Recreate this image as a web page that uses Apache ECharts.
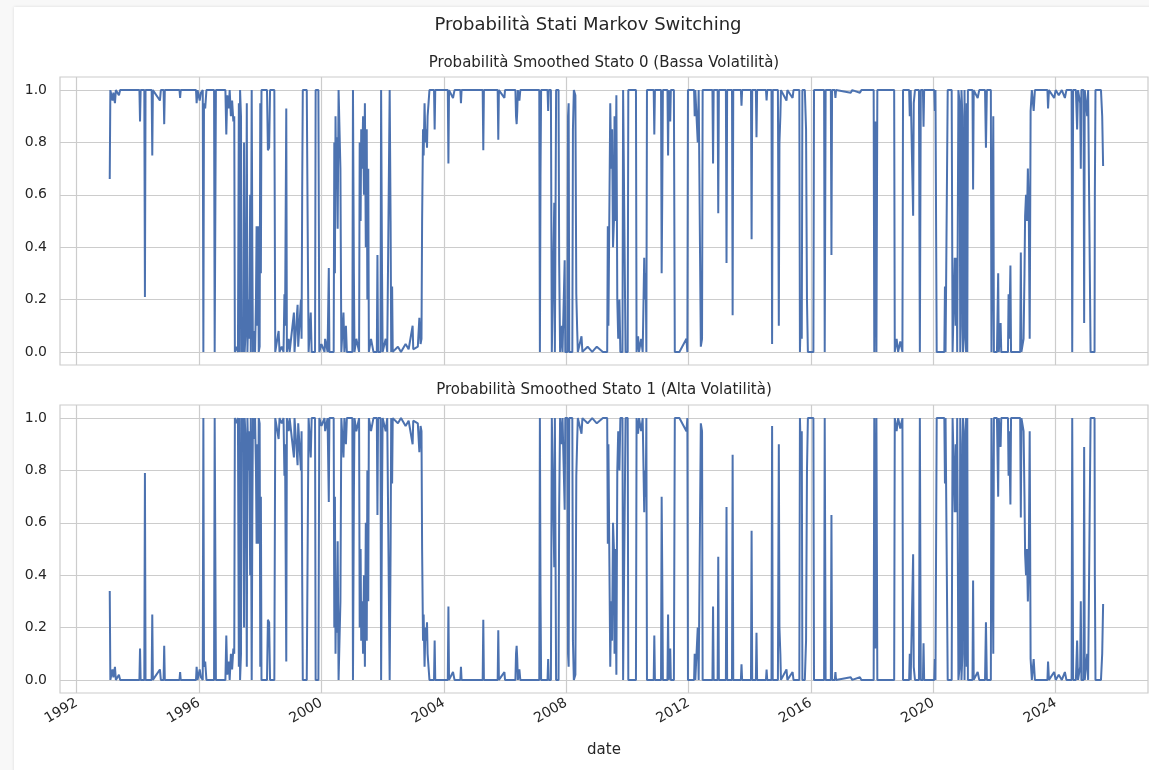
<!DOCTYPE html>
<html>
<head>
<meta charset="utf-8">
<title>Probabilità Stati Markov Switching</title>
<script src="https://cdn.jsdelivr.net/npm/echarts@6/dist/echarts.min.js"></script>
<style>
  html, body { margin: 0; padding: 0; background: #f8f8f8; }
  #card { position: absolute; left: 14px; top: 7px; width: 1140px; height: 770px; background: #ffffff;
          box-shadow: 0 0 3px rgba(0,0,0,0.12); }
  #main { position: absolute; left: 0; top: 0; width: 1149px; height: 770px; }
</style>
</head>
<body>
<div id="card"></div>
<div id="main"></div>
<script>
// tick labels
var anniTick = [1992, 1996, 2000, 2004, 2008, 2012, 2016, 2020, 2024];
var valoriTick = [0.0, 0.2, 0.4, 0.6, 0.8, 1.0];

// probabilita' smoothed stato 0 (bassa volatilita'), [anno decimale, probabilita']
var stato0 = [
  [1993.08, 0.66], [1993.10, 1.0], [1993.17, 0.96], [1993.20, 0.99], [1993.25, 0.95], [1993.28, 1.0], [1993.38, 0.98], [1993.42, 1.0],
  [1994.05, 1.0], [1994.07, 0.88], [1994.09, 1.0],
  [1994.21, 1.0], [1994.23, 0.21], [1994.25, 1.0],
  [1994.45, 1.0], [1994.47, 0.75], [1994.49, 1.0],
  [1994.72, 0.96], [1994.75, 1.0],
  [1994.84, 1.0], [1994.86, 0.87], [1994.88, 1.0],
  [1995.36, 1.0], [1995.38, 0.97], [1995.40, 1.0],
  [1995.90, 1.0], [1995.92, 0.95], [1995.95, 1.0], [1996.02, 0.96], [1996.06, 0.99],
  [1996.12, 1.0], [1996.14, 0.0], [1996.16, 0.95], [1996.20, 0.93], [1996.24, 1.0],
  [1996.49, 1.0], [1996.51, 0.0], [1996.53, 0.5], [1996.55, 1.0],
  [1996.86, 1.0], [1996.89, 0.83], [1996.92, 0.98], [1996.97, 0.93], [1997.00, 1.0], [1997.04, 0.9], [1997.08, 0.96],
  [1997.12, 0.88], [1997.15, 0.9],
  [1997.17, 0.0], [1997.22, 0.02], [1997.27, 0.0], [1997.30, 0.95], [1997.32, 0.0], [1997.34, 1.0], [1997.37, 0.9],
  [1997.39, 0.0], [1997.42, 0.05], [1997.45, 0.0], [1997.47, 0.8], [1997.49, 0.0], [1997.53, 0.1], [1997.56, 0.95],
  [1997.58, 0.0], [1997.62, 0.2], [1997.64, 0.05], [1997.67, 0.6], [1997.69, 0.0], [1997.72, 1.0], [1997.74, 0.4],
  [1997.76, 0.0], [1997.80, 0.08], [1997.83, 0.0], [1997.86, 0.2], [1997.88, 0.48], [1997.90, 0.1], [1997.93, 0.48],
  [1997.95, 0.0], [1997.98, 0.02], [1998.00, 0.95], [1998.02, 0.3], [1998.04, 1.0],
  [1998.22, 1.0], [1998.25, 0.77], [1998.29, 0.78], [1998.32, 1.0], [1998.46, 1.0], [1998.49, 0.0],
  [1998.60, 0.08], [1998.63, 0.0], [1998.70, 0.02], [1998.76, 0.0],
  [1998.79, 0.22], [1998.81, 0.1], [1998.83, 0.1], [1998.85, 0.93], [1998.87, 0.0],
  [1998.93, 0.05], [1998.96, 0.0], [1999.10, 0.15], [1999.12, 0.0], [1999.22, 0.18], [1999.24, 0.02], [1999.33, 0.2], [1999.35, 0.05],
  [1999.37, 0.6], [1999.39, 1.0], [1999.52, 1.0], [1999.54, 0.65], [1999.56, 0.3], [1999.58, 0.0],
  [1999.65, 0.15], [1999.68, 0.0], [1999.79, 0.0],
  [1999.81, 1.0], [1999.90, 1.0], [1999.93, 0.0],
  [2000.00, 0.03], [2000.10, 0.0], [2000.12, 0.05], [2000.20, 0.0],
  [2000.24, 0.32], [2000.26, 0.0], [2000.40, 0.0],
  [2000.42, 0.8], [2000.44, 0.3], [2000.46, 0.9], [2000.48, 0.65], [2000.50, 0.82], [2000.53, 0.47], [2000.56, 1.0],
  [2000.60, 1.0], [2000.62, 0.7], [2000.65, 0.0],
  [2000.72, 0.15], [2000.75, 0.0], [2000.80, 0.1], [2000.83, 0.0], [2001.01, 0.0],
  [2001.03, 1.0], [2001.06, 0.3], [2001.08, 0.0],
  [2001.14, 0.05], [2001.23, 0.0],
  [2001.25, 0.8], [2001.28, 0.5], [2001.30, 0.85], [2001.33, 0.7], [2001.36, 0.9], [2001.39, 0.6], [2001.42, 0.95],
  [2001.45, 0.4], [2001.48, 0.85], [2001.50, 0.2], [2001.53, 0.7], [2001.55, 0.0],
  [2001.62, 0.05], [2001.70, 0.0], [2001.81, 0.0], [2001.83, 0.37], [2001.85, 0.0], [2001.93, 0.0],
  [2001.95, 1.0], [2001.98, 0.3], [2002.00, 0.0],
  [2002.10, 0.05], [2002.15, 0.0], [2002.21, 0.0],
  [2002.23, 1.0], [2002.26, 0.5], [2002.28, 0.0], [2002.31, 0.25], [2002.33, 0.0],
  [2002.50, 0.02], [2002.60, 0.0], [2002.75, 0.03], [2002.85, 0.01], [2002.98, 0.1], [2003.00, 0.01], [2003.15, 0.02],
  [2003.20, 0.13], [2003.24, 0.03], [2003.27, 0.05],
  [2003.29, 0.5], [2003.32, 0.85], [2003.34, 0.75], [2003.37, 0.95], [2003.40, 0.8], [2003.43, 0.85], [2003.45, 0.78],
  [2003.47, 0.9], [2003.50, 0.95], [2003.53, 1.0], [2003.68, 1.0], [2003.70, 0.85], [2003.72, 1.0],
  [2004.13, 1.0], [2004.15, 0.72], [2004.17, 1.0], [2004.30, 0.97], [2004.35, 1.0],
  [2004.54, 1.0], [2004.56, 0.95], [2004.58, 1.0],
  [2005.27, 1.0], [2005.29, 0.77], [2005.31, 1.0],
  [2005.76, 1.0], [2005.78, 0.81], [2005.80, 1.0], [2005.98, 0.97], [2006.00, 1.0],
  [2006.34, 1.0], [2006.36, 0.9], [2006.38, 0.87], [2006.40, 0.92], [2006.42, 1.0], [2006.47, 0.96], [2006.50, 1.0],
  [2007.12, 1.0], [2007.14, 0.0], [2007.16, 0.67], [2007.18, 1.0],
  [2007.39, 1.0], [2007.41, 0.92], [2007.43, 1.0], [2007.50, 1.0], [2007.53, 0.0], [2007.59, 0.0],
  [2007.61, 0.57], [2007.63, 0.0], [2007.65, 0.0], [2007.67, 1.0], [2007.75, 1.0], [2007.77, 0.35], [2007.80, 0.0],
  [2007.86, 0.1], [2007.88, 0.0], [2007.93, 0.0], [2007.95, 0.35], [2007.97, 0.0], [2008.04, 0.0],
  [2008.06, 0.9], [2008.08, 0.95], [2008.10, 0.0], [2008.20, 0.0],
  [2008.22, 0.85], [2008.25, 1.0], [2008.30, 0.98], [2008.33, 0.22], [2008.36, 0.08], [2008.38, 0.0],
  [2008.50, 0.06], [2008.53, 0.0], [2008.70, 0.02], [2008.85, 0.0], [2009.00, 0.02], [2009.20, 0.0], [2009.34, 0.0],
  [2009.36, 0.48], [2009.38, 0.1], [2009.42, 0.1], [2009.44, 0.95], [2009.47, 0.7], [2009.50, 0.85], [2009.53, 0.4], [2009.56, 0.5],
  [2009.58, 0.9], [2009.60, 0.5], [2009.64, 0.98], [2009.67, 0.2], [2009.70, 0.05], [2009.74, 0.2], [2009.77, 0.0],
  [2009.84, 0.0], [2009.86, 1.0], [2009.92, 1.0], [2009.94, 0.0], [2010.01, 0.0], [2010.03, 1.0], [2010.28, 1.0], [2010.30, 0.0],
  [2010.35, 0.06], [2010.38, 0.0], [2010.45, 0.05], [2010.50, 0.0], [2010.55, 0.36], [2010.57, 0.2], [2010.60, 0.3], [2010.62, 0.0],
  [2010.64, 1.0],
  [2010.86, 1.0], [2010.88, 0.83], [2010.90, 1.0],
  [2011.10, 1.0], [2011.12, 0.3], [2011.14, 0.6], [2011.16, 1.0],
  [2011.31, 1.0], [2011.33, 0.75], [2011.35, 1.0], [2011.40, 0.88], [2011.42, 1.0],
  [2011.52, 1.0], [2011.55, 0.0], [2011.70, 0.0], [2011.93, 0.05], [2011.96, 0.0],
  [2011.98, 1.0], [2012.18, 1.0], [2012.20, 0.9], [2012.22, 1.0], [2012.30, 0.8], [2012.33, 1.0],
  [2012.38, 1.0], [2012.40, 0.02], [2012.44, 0.05], [2012.46, 1.0],
  [2012.78, 1.0], [2012.80, 0.72], [2012.82, 1.0],
  [2012.95, 1.0], [2012.97, 0.53], [2012.99, 1.0],
  [2013.22, 1.0], [2013.24, 0.34], [2013.26, 1.0],
  [2013.42, 1.0], [2013.44, 0.14], [2013.46, 1.0],
  [2013.71, 1.0], [2013.73, 0.94], [2013.75, 1.0],
  [2014.04, 1.0], [2014.06, 0.43], [2014.08, 1.0],
  [2014.20, 1.0], [2014.22, 0.82], [2014.24, 1.0],
  [2014.53, 1.0], [2014.55, 0.96], [2014.57, 1.0],
  [2014.71, 1.0], [2014.73, 0.03], [2014.75, 1.0],
  [2014.92, 1.0], [2014.95, 0.1], [2014.97, 0.8], [2015.00, 0.9], [2015.02, 1.0],
  [2015.20, 0.96], [2015.23, 1.0], [2015.40, 0.97], [2015.43, 1.0],
  [2015.62, 1.0], [2015.64, 0.0], [2015.68, 0.2], [2015.70, 0.05], [2015.72, 1.0],
  [2015.80, 1.0], [2015.84, 0.85], [2015.87, 0.2], [2015.90, 0.0], [2016.08, 0.0], [2016.10, 1.0],
  [2016.43, 1.0], [2016.45, 0.0], [2016.48, 1.0],
  [2016.65, 1.0], [2016.67, 0.37], [2016.69, 1.0],
  [2016.78, 1.0], [2016.80, 0.97], [2016.82, 1.0], [2017.30, 0.99], [2017.35, 1.0], [2017.60, 0.99], [2017.65, 1.0],
  [2018.05, 1.0], [2018.07, 0.0], [2018.10, 0.88], [2018.12, 0.57], [2018.14, 0.0], [2018.17, 1.0],
  [2018.72, 1.0], [2018.74, 0.0], [2018.80, 0.05], [2018.85, 0.0], [2018.92, 0.04], [2018.99, 0.0],
  [2019.01, 1.0], [2019.21, 1.0], [2019.23, 0.9], [2019.26, 1.0],
  [2019.32, 1.0], [2019.34, 0.52], [2019.36, 0.95], [2019.40, 1.0],
  [2019.53, 1.0], [2019.56, 0.0], [2019.59, 1.0],
  [2019.66, 1.0], [2019.68, 0.86], [2019.70, 1.0],
  [2020.03, 1.0], [2020.05, 0.92], [2020.07, 1.0],
  [2020.09, 1.0], [2020.11, 0.0], [2020.36, 0.0], [2020.38, 0.25], [2020.40, 0.0],
  [2020.45, 0.0], [2020.47, 1.0], [2020.60, 1.0], [2020.63, 0.0],
  [2020.68, 0.0], [2020.70, 0.36], [2020.73, 0.1], [2020.76, 0.36], [2020.78, 0.0],
  [2020.80, 0.0], [2020.82, 1.0], [2020.86, 0.95], [2020.88, 0.0], [2020.90, 0.1], [2020.92, 1.0], [2020.95, 0.9],
  [2020.97, 0.0], [2021.00, 0.05], [2021.02, 1.0], [2021.05, 0.3], [2021.07, 0.0], [2021.09, 0.95], [2021.11, 0.0], [2021.13, 1.0],
  [2021.28, 1.0], [2021.30, 0.62], [2021.32, 1.0], [2021.45, 0.97], [2021.50, 1.0],
  [2021.69, 1.0], [2021.72, 0.78], [2021.75, 1.0],
  [2021.88, 1.0], [2021.90, 0.0], [2021.94, 0.0], [2021.96, 0.9], [2021.98, 0.0],
  [2022.08, 0.0], [2022.12, 0.3], [2022.14, 0.0], [2022.20, 0.11], [2022.22, 0.0],
  [2022.44, 0.0], [2022.46, 0.22], [2022.48, 0.05], [2022.52, 0.33], [2022.54, 0.0],
  [2022.84, 0.0], [2022.86, 0.38], [2022.88, 0.0], [2022.95, 0.05], [2022.98, 0.3], [2023.00, 0.52], [2023.03, 0.6],
  [2023.06, 0.5], [2023.09, 0.7], [2023.12, 0.55], [2023.15, 0.05], [2023.18, 0.92], [2023.22, 1.0],
  [2023.28, 0.92], [2023.32, 1.0], [2023.73, 1.0], [2023.75, 0.93], [2023.78, 1.0], [2023.95, 0.97], [2024.00, 1.0],
  [2024.10, 0.98], [2024.20, 1.0], [2024.30, 0.97], [2024.35, 1.0],
  [2024.52, 1.0], [2024.54, 0.0], [2024.57, 1.0],
  [2024.66, 1.0], [2024.70, 0.85], [2024.73, 1.0], [2024.80, 0.95], [2024.82, 0.7], [2024.84, 1.0],
  [2024.91, 1.0], [2024.93, 0.11], [2024.95, 1.0], [2025.00, 1.0], [2025.03, 0.9], [2025.06, 1.0],
  [2025.10, 0.5], [2025.14, 0.0], [2025.20, 0.0], [2025.27, 0.0], [2025.28, 0.6], [2025.30, 1.0],
  [2025.48, 1.0], [2025.52, 0.9], [2025.55, 0.71]
];

// stato 1 (alta volatilita') e' il complemento dello stato 0
var stato1 = stato0.map(function (p) { return [p[0], Math.round((1 - p[1]) * 100) / 100]; });

var testo = '#262626';
var grigio = '#cccccc';
var blu = '#4c72b0';
var font = 'DejaVu Sans';

function assex(idx, etichette) {
    return {
        type: 'value', gridIndex: idx, min: 1991.454, max: 2027.017,
        axisLine: { show: false },
        axisTick: { show: false, customValues: anniTick },
        axisLabel: {
            show: etichette, customValues: anniTick, rotate: 30, margin: 9,
            color: testo, fontFamily: font, fontSize: 14,
            formatter: function (v) { return String(Math.round(v)); }
        },
        splitLine: { show: true, lineStyle: { color: grigio, width: 1.2 } }
    };
}

function assey(idx) {
    return {
        type: 'value', gridIndex: idx, min: -0.05, max: 1.05,
        axisLine: { show: false },
        axisTick: { show: false, customValues: valoriTick },
        axisLabel: {
            customValues: valoriTick, margin: 13,
            color: testo, fontFamily: font, fontSize: 14,
            formatter: function (v) { return v.toFixed(1); }
        },
        splitLine: { show: true, lineStyle: { color: grigio, width: 1.2 } }
    };
}

var myChart = echarts.init(document.getElementById('main'), null, { renderer: 'canvas' });
myChart.setOption({
    animation: false,
    backgroundColor: 'transparent',
    textStyle: { fontFamily: font },
    graphic: [
        { type: 'text', x: 588, y: 25, style: { text: 'Probabilità Stati Markov Switching', align: 'center', verticalAlign: 'middle', fill: testo, font: '18px "DejaVu Sans"' } },
        { type: 'text', x: 604, y: 63, style: { text: 'Probabilità Smoothed Stato 0 (Bassa Volatilità)', align: 'center', verticalAlign: 'middle', fill: testo, font: '15px "DejaVu Sans"' } },
        { type: 'text', x: 604, y: 390, style: { text: 'Probabilità Smoothed Stato 1 (Alta Volatilità)', align: 'center', verticalAlign: 'middle', fill: testo, font: '15px "DejaVu Sans"' } },
        { type: 'text', x: 604, y: 750, style: { text: 'date', align: 'center', verticalAlign: 'middle', fill: testo, font: '15px "DejaVu Sans"' } }
    ],
    grid: [
        { left: 60, top: 77, width: 1088, height: 288, show: true, borderColor: grigio, borderWidth: 1.2, backgroundColor: 'transparent' },
        { left: 60, top: 405, width: 1088, height: 288, show: true, borderColor: grigio, borderWidth: 1.2, backgroundColor: 'transparent' }
    ],
    xAxis: [assex(0, false), assex(1, true)],
    yAxis: [assey(0), assey(1)],
    series: [
        {
            name: 'Stato 0', type: 'line', xAxisIndex: 0, yAxisIndex: 0, data: stato0,
            showSymbol: false, symbol: 'none', lineStyle: { color: blu, width: 2 }, z: 3
        },
        {
            name: 'Stato 1', type: 'line', xAxisIndex: 1, yAxisIndex: 1, data: stato1,
            showSymbol: false, symbol: 'none', lineStyle: { color: blu, width: 2 }, z: 3
        }
    ]
});
</script>
</body>
</html>
